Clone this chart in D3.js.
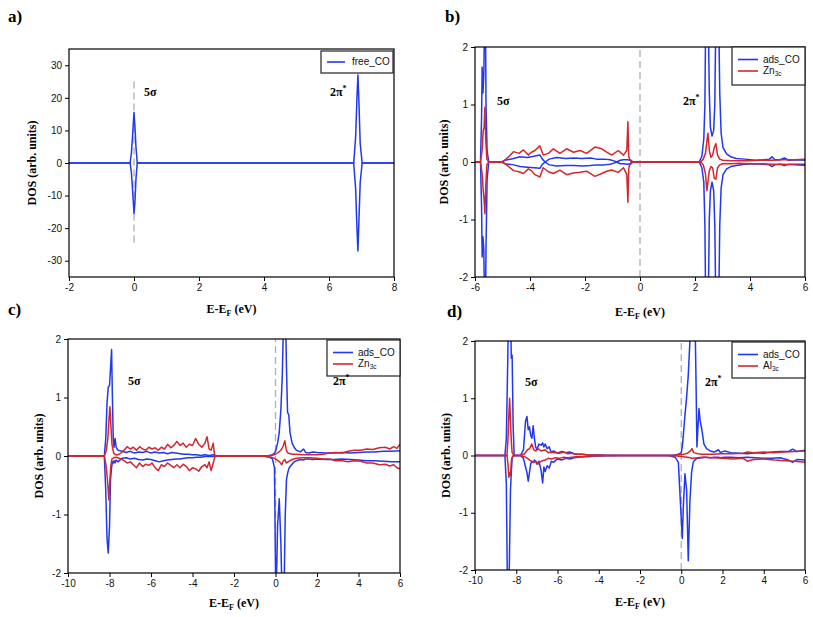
<!DOCTYPE html>
<html><head><meta charset="utf-8">
<script src="https://cdn.jsdelivr.net/npm/d3@7"></script>
<style>body{margin:0;background:#fff}svg{display:block}</style>
</head><body>
<svg id="c" width="813" height="617"></svg>
<script>
// ---------- DATA ----------
// Panel a: free CO
const aE    = [-2,-0.12,-0.08,-0.04,0,0.03,0.06,0.1,6.76,6.82,6.86,6.89,6.92,6.96,7.02,8];
const aCOup = [0,0,3,9,15.5,11,5,0,0,8,20,27,19,6,0,0];
const aCOdn = [0,0,-3,-9,-15.5,-12,-5,0,0,-8,-20,-27,-18,-6,0,0];

// Panel b: ads_CO + Zn3c
const bCOE  = [-6,-5.8,-5.76,-5.74,-5.71,-5.68,-5.65,-5.62,-5.6,-5.56,-5.5,-5.05,-4.9,-4.6,-4.36,-4.1,-3.85,-3.64,-3.55,-3.45,-3.3,-3.03,-2.7,-2.4,-2.1,-1.8,-1.58,-1.3,-1.09,-0.95,-0.85,-0.72,-0.6,-0.45,-0.36,-0.3,2.15,2.25,2.32,2.36,2.39,2.48,2.52,2.56,2.62,2.68,2.72,2.76,2.86,2.9,2.95,3.02,3.15,3.3,3.5,3.8,4.2,4.5,4.7,4.8,4.9,5.1,5.25,5.4,5.7,6];
const bCOup = [0,0,0.8,1.65,1.2,1.5,2.6,2.6,1.0,0.2,0,0,0.03,0.06,0.09,0.08,0.1,0.12,0.05,0,0.05,0.08,0.06,0.07,0.06,0.07,0.05,0.05,0.04,0.02,0,0.03,0.04,0.04,0.03,0,0,0.1,0.4,1.0,2.6,2.6,1.2,0.6,0.45,0.55,1.0,2.6,2.6,1.2,0.5,0.25,0.14,0.09,0.06,0.05,0.03,0.04,0.05,0.09,0.04,0.04,0.07,0.03,0.04,0.03];
const bCOdn = [0,0,-0.8,-1.65,-1.3,-1.5,-2.6,-2.6,-1.5,-0.3,0,0,-0.03,-0.05,-0.08,-0.09,-0.1,-0.11,-0.04,0,-0.05,-0.07,-0.06,-0.06,-0.07,-0.06,-0.05,-0.05,-0.04,-0.02,0,-0.03,-0.03,-0.04,-0.03,0,0,-0.1,-0.35,-1.1,-2.6,-2.6,-1.0,-0.5,-0.35,-0.5,-1.1,-2.6,-2.6,-1.1,-0.45,-0.22,-0.12,-0.08,-0.06,-0.04,-0.03,-0.04,-0.05,-0.08,-0.05,-0.04,-0.06,-0.04,-0.04,-0.04];
const bMeE  = [-6,-5.8,-5.74,-5.7,-5.67,-5.64,-5.61,-5.57,-5.5,-5.0,-4.8,-4.6,-4.4,-4.24,-4.06,-3.95,-3.82,-3.64,-3.52,-3.33,-3.15,-2.91,-2.67,-2.42,-2.18,-1.94,-1.64,-1.39,-1.21,-1.03,-0.79,-0.6,-0.48,-0.44,-0.41,-0.38,-0.3,-0.24,2.2,2.3,2.38,2.43,2.47,2.52,2.58,2.64,2.7,2.76,2.82,2.9,3.0,3.3,3.6,4.0,4.4,4.8,5.2,5.6,6.0];
const bMeUp = [0,0,0.2,0.55,0.6,0.95,0.4,0.05,0,0,0.08,0.18,0.15,0.21,0.12,0.17,0.2,0.28,0.12,0.15,0.23,0.15,0.23,0.17,0.2,0.15,0.26,0.23,0.17,0.12,0.2,0.12,0.2,0.7,0.1,0.05,0.02,0,0,0.05,0.15,0.35,0.5,0.2,0.08,0.12,0.25,0.32,0.12,0.05,0.03,0.02,0.02,0.02,0.03,0.03,0.04,0.04,0.05];
const bMeDn = [0,0,-0.2,-0.5,-0.65,-0.9,-0.45,-0.05,0,0,-0.07,-0.15,-0.17,-0.2,-0.12,-0.15,-0.22,-0.26,-0.1,-0.17,-0.2,-0.14,-0.22,-0.19,-0.18,-0.16,-0.25,-0.2,-0.16,-0.14,-0.18,-0.1,-0.22,-0.7,-0.12,-0.05,-0.02,0,0,-0.05,-0.2,-0.5,-0.35,-0.15,-0.08,-0.1,-0.28,-0.3,-0.1,-0.05,-0.03,-0.03,-0.02,-0.03,-0.03,-0.04,-0.04,-0.05,-0.06];

// Panel c: ads_CO + Zn3c
const cCOE  = [-10,-8.25,-8.18,-8.12,-8.06,-8.0,-7.95,-7.9,-7.86,-7.82,-7.78,-7.73,-7.68,-7.6,-7.4,-7.2,-7.0,-6.8,-6.6,-6.4,-6.2,-6.0,-5.8,-5.6,-5.4,-5.2,-5.0,-4.8,-4.6,-4.4,-4.2,-4.0,-3.8,-3.6,-3.4,-3.2,-3.0,-2.9,-0.6,-0.3,-0.15,-0.05,0.02,0.1,0.18,0.26,0.33,0.4,0.47,0.53,0.58,0.64,0.7,0.8,0.9,1.0,1.2,1.35,1.45,1.6,1.8,2.0,2.4,2.8,3.2,3.6,4.0,4.4,4.8,5.2,5.6,6.0];
const cCOup = [0,0,0.3,0.9,1.18,1.2,1.5,1.82,1.0,0.3,0.15,0.3,0.15,0.1,0.08,0.06,0.08,0.05,0.07,0.06,0.08,0.05,0.07,0.05,0.06,0.04,0.06,0.05,0.04,0.03,0.03,0.02,0.02,0.01,0.02,0.01,0.02,0,0,0.01,0.02,0.05,0.1,0.22,0.4,0.8,1.4,2.6,2.6,1.5,0.75,0.7,0.4,0.22,0.15,0.1,0.07,0.12,0.06,0.05,0.07,0.06,0.05,0.05,0.06,0.05,0.06,0.07,0.07,0.08,0.08,0.09];
const cCOdn = [0,0,-0.6,-1.4,-1.66,-1.2,-0.4,-0.2,-0.1,-0.12,-0.08,-0.12,-0.07,-0.1,-0.04,-0.03,-0.05,-0.04,-0.06,-0.07,-0.05,-0.06,-0.08,-0.1,-0.08,-0.07,-0.06,-0.05,-0.05,-0.04,-0.03,-0.03,-0.02,-0.02,-0.01,-0.01,-0.01,0,0,-0.02,-0.05,-0.2,-2.6,-1.2,-0.73,-1.5,-2.6,-2.6,-1.0,-0.4,-0.3,-0.22,-0.18,-0.14,-0.1,-0.08,-0.06,-0.07,-0.05,-0.05,-0.06,-0.05,-0.06,-0.06,-0.05,-0.06,-0.07,-0.08,-0.08,-0.09,-0.1,-0.1];
const cMeE  = [-10,-8.25,-8.15,-8.08,-8.03,-7.98,-7.93,-7.88,-7.8,-7.7,-7.6,-7.45,-7.3,-7.15,-7.0,-6.85,-6.7,-6.55,-6.4,-6.25,-6.1,-5.95,-5.8,-5.65,-5.5,-5.35,-5.2,-5.05,-4.9,-4.75,-4.6,-4.45,-4.3,-4.15,-4.0,-3.85,-3.7,-3.55,-3.4,-3.3,-3.2,-3.1,-3.0,-2.95,-2.9,-0.6,-0.2,0.0,0.2,0.3,0.38,0.45,0.52,0.6,0.8,1.0,1.3,1.6,2.0,2.3,2.6,2.9,3.2,3.5,3.8,4.1,4.4,4.7,5.0,5.3,5.5,5.7,5.85,6.0];
const cMeUp = [0,0,0.1,0.3,0.6,0.84,0.5,0.2,0.05,0.02,0.02,0.05,0.1,0.16,0.12,0.15,0.1,0.16,0.12,0.1,0.15,0.12,0.14,0.1,0.15,0.12,0.2,0.14,0.18,0.25,0.18,0.22,0.15,0.2,0.18,0.3,0.2,0.15,0.22,0.33,0.12,0.1,0.22,0.05,0,0,0.01,0.03,0.08,0.12,0.18,0.26,0.1,0.05,0.03,0.03,0.02,0.02,0.02,0.03,0.05,0.06,0.05,0.08,0.1,0.1,0.12,0.11,0.14,0.15,0.12,0.16,0.13,0.2];
const cMeDn = [0,0,-0.2,-0.5,-0.75,-0.4,-0.15,-0.05,-0.03,-0.02,-0.03,-0.05,-0.08,-0.12,-0.1,-0.15,-0.2,-0.12,-0.18,-0.14,-0.16,-0.12,-0.2,-0.25,-0.15,-0.18,-0.12,-0.16,-0.2,-0.15,-0.2,-0.14,-0.18,-0.25,-0.2,-0.22,-0.26,-0.18,-0.15,-0.2,-0.1,-0.25,-0.12,-0.05,0,0,-0.02,-0.05,-0.1,-0.15,-0.08,-0.06,-0.12,-0.1,-0.06,-0.04,-0.03,-0.03,-0.04,-0.05,-0.05,-0.08,-0.08,-0.1,-0.08,-0.09,-0.12,-0.12,-0.15,-0.14,-0.17,-0.15,-0.2,-0.22];

// Panel d: ads_CO + Al3c
const dCOE  = [-10,-8.55,-8.48,-8.42,-8.37,-8.33,-8.28,-8.24,-8.2,-8.15,-8.1,-7.8,-7.65,-7.55,-7.48,-7.42,-7.36,-7.3,-7.24,-7.18,-7.12,-7.06,-7.0,-6.9,-6.8,-6.72,-6.66,-6.6,-6.5,-6.4,-6.3,-6.2,-6.0,-5.8,-5.6,-5.4,-5.2,-5.0,-4.8,-4.5,-4.2,-3.9,-3.6,-3.2,-2.9,-0.6,-0.3,-0.14,0.0,0.05,0.1,0.18,0.26,0.34,0.42,0.5,0.58,0.66,0.72,0.76,0.86,0.92,1.0,1.1,1.23,1.4,1.6,1.8,1.9,2.1,2.4,2.8,3.2,3.6,4.0,4.4,4.8,5.2,5.4,5.6,6.0];
const dCOup = [0,0,0.3,1.5,2.6,2.6,2.6,1.7,1.75,0.5,0,0,0.1,0.6,0.68,0.45,0.5,0.35,0.3,0.52,0.3,0.15,0.1,0.2,0.18,0.22,0.15,0.2,0.12,0.15,0.05,0.08,0.04,0.07,0.05,0.06,0.03,0.02,0.02,0.01,0.01,0.01,0.005,0.005,0,0,0.01,0.02,0.05,0.15,0.35,0.7,1.02,1.4,2.0,2.6,2.6,2.6,1.2,0.15,0.82,0.6,0.45,0.2,0.12,0.08,0.06,0.1,0.05,0.08,0.05,0.04,0.03,0.05,0.04,0.06,0.07,0.07,0.11,0.07,0.09];
const dCOdn = [0,0,-0.5,-2.6,-2.6,-1.8,-0.6,-0.3,-0.05,0,0,0,-0.05,-0.2,-0.3,-0.45,-0.3,-0.15,-0.1,-0.12,-0.08,-0.1,-0.15,-0.1,-0.25,-0.48,-0.2,-0.28,-0.18,-0.22,-0.1,-0.12,-0.06,-0.08,-0.05,-0.06,-0.04,-0.03,-0.02,-0.02,-0.01,-0.01,-0.005,-0.005,0,0,-0.03,-0.12,-1.1,-1.45,-0.9,-0.32,-0.6,-1.84,-0.8,-0.3,-0.12,-0.08,-0.06,-0.05,-0.05,-0.04,-0.04,-0.03,-0.03,-0.04,-0.03,-0.03,-0.04,-0.03,-0.03,-0.04,-0.03,-0.04,-0.05,-0.05,-0.04,-0.08,-0.12,-0.07,-0.08];
const dMeE  = [-10,-8.45,-8.4,-8.36,-8.32,-8.28,-8.24,-8.2,-8.1,-7.8,-7.6,-7.45,-7.35,-7.25,-7.15,-7.05,-6.95,-6.8,-6.6,-6.45,-6.3,-6.1,-5.9,-5.7,-5.5,-5.3,-5.1,-4.8,-4.5,-4.2,-3.8,-3.4,-3.0,-2.8,-0.6,-0.2,0.1,0.3,0.45,0.52,0.6,0.8,1.0,1.5,2.0,2.5,3.0,3.2,3.5,4.0,4.5,5.0,5.5,6.0];
const dMeUp = [0,0,0.3,0.7,1.0,0.6,0.25,0.05,0,0,0.03,0.1,0.12,0.2,0.1,0.08,0.12,0.08,0.1,0.05,0.06,0.05,0.04,0.06,0.03,0.04,0.02,0.02,0.01,0.01,0.005,0.005,0,0,0,0.01,0.02,0.04,0.08,0.12,0.05,0.03,0.02,0.02,0.03,0.03,0.04,0.06,0.05,0.06,0.05,0.06,0.07,0.08];
const dMeDn = [0,0,-0.15,-0.38,-0.3,-0.35,-0.1,-0.03,0,0,-0.02,-0.05,-0.08,-0.1,-0.12,-0.1,-0.15,-0.1,-0.08,-0.05,-0.06,-0.04,-0.05,-0.03,-0.04,-0.03,-0.02,-0.02,-0.01,-0.01,-0.005,-0.005,0,0,0,-0.01,-0.02,-0.03,-0.04,-0.05,-0.05,-0.04,-0.03,-0.04,-0.05,-0.06,-0.05,-0.1,-0.07,-0.06,-0.08,-0.09,-0.1,-0.12];

// Ticks & labels
const aXTicks = [-2,0,2,4,6,8];
const aYTicks = [-30,-20,-10,0,10,20,30];
const bXTicks = [-6,-4,-2,0,2,4,6];
const cdXTicks = [-10,-8,-6,-4,-2,0,2,4,6];
const smallYTicks = [-2,-1,0,1,2];
const panelLetters = ["a)","b)","c)","d)"];

// ---------- DRAW ----------
const BLUE = "#2238ee", RED = "#d3262e";
const svg = d3.select("#c");
const panels = [
  {id:"a", letter:panelLetters[0], box:[69,49,394,277], xd:[-2,8], yd:[-35,35], xt:aXTicks, yt:aYTicks,
   series:[{E:aE, up:aCOup, dn:aCOdn, color:BLUE}],
   legend:[{name:"free_CO", color:BLUE}], legBox:[321,51,393,73],
   fermi:[25,-25], ann:[{t:"5σ",x:0.31,y:20.6},{t:"2π",sup:"*",x:6.03,y:20.6}],
   letterPos:[8,22], ylabX:33, xlabY:313},
  {id:"b", letter:panelLetters[1], box:[475,47,805,277], xd:[-6,6], yd:[-2,2], xt:bXTicks, yt:smallYTicks,
   series:[{E:bCOE, up:bCOup, dn:bCOdn, color:BLUE},{E:bMeE, up:bMeUp, dn:bMeDn, color:RED}],
   legend:[{name:"ads_CO", color:BLUE},{name:"Zn", sub:"3c", color:RED}], legBox:[732,47,805,85],
   fermi:null, ann:[{t:"5σ",x:-5.2,y:1.0},{t:"2π",sup:"*",x:1.56,y:1.0}],
   letterPos:[445,22], ylabX:445, xlabY:316},
  {id:"c", letter:panelLetters[2], box:[68,339,400,573], xd:[-10,6], yd:[-2,2], xt:cdXTicks, yt:smallYTicks,
   series:[{E:cCOE, up:cCOup, dn:cCOdn, color:BLUE},{E:cMeE, up:cMeUp, dn:cMeDn, color:RED}],
   legend:[{name:"ads_CO", color:BLUE},{name:"Zn", sub:"3c", color:RED}], legBox:[327,340,400,376],
   fermi:null, ann:[{t:"5σ",x:-7.11,y:1.21},{t:"2π",sup:"*",x:2.77,y:1.21}],
   letterPos:[8,315], ylabX:40, xlabY:607},
  {id:"d", letter:panelLetters[3], box:[475,341,805,570], xd:[-10,6], yd:[-2,2], xt:cdXTicks, yt:smallYTicks,
   series:[{E:dCOE, up:dCOup, dn:dCOdn, color:BLUE},{E:dMeE, up:dMeUp, dn:dMeDn, color:RED}],
   legend:[{name:"ads_CO", color:BLUE},{name:"Al", sub:"3c", color:RED}], legBox:[732,342,805,378],
   fermi:null, ann:[{t:"5σ",x:-7.58,y:1.21},{t:"2π",sup:"*",x:1.15,y:1.21}],
   letterPos:[447,317], ylabX:447, xlabY:606}
];

panels.forEach(p => {
  const [L,T,R,B] = p.box;
  const x = d3.scaleLinear().domain(p.xd).range([L,R]);
  const y = d3.scaleLinear().domain(p.yd).range([B,T]);
  const g = svg.append("g");

  g.append("clipPath").attr("id","clip"+p.id).append("rect")
    .attr("x",L).attr("y",T).attr("width",R-L).attr("height",B-T);

  // Fermi level dashed line
  const fy = p.fermi ? p.fermi : p.yd;
  g.append("line").attr("x1",x(0)).attr("x2",x(0)).attr("y1",y(fy[0])).attr("y2",y(fy[1]))
    .attr("stroke","#aab0b4").attr("stroke-width",1.3).attr("stroke-dasharray","7,4");

  const plot = g.append("g").attr("clip-path","url(#clip"+p.id+")");
  p.series.forEach(s => {
    ["up","dn"].forEach(k => {
      const pts = s.E.map((e,i)=>[e, s[k][i]]);
      plot.append("path").datum(pts)
        .attr("fill","none").attr("stroke",s.color).attr("stroke-width",1.5)
        .attr("stroke-linejoin","round")
        .attr("d", d3.line().x(d=>x(d[0])).y(d=>y(d[1])));
    });
  });

  // frame
  g.append("rect").attr("x",L).attr("y",T).attr("width",R-L).attr("height",B-T)
    .attr("fill","none").attr("stroke","#000").attr("stroke-width",1.2);

  const axFont = "'Liberation Sans', Arial, sans-serif";
  const fmt = d => String(d);
  const xa = g.append("g").attr("transform",`translate(0,${B})`)
    .call(d3.axisBottom(x).tickValues(p.xt).tickSize(4).tickSizeOuter(0).tickPadding(3).tickFormat(fmt));
  const ya = g.append("g").attr("transform",`translate(${L},0)`)
    .call(d3.axisLeft(y).tickValues(p.yt).tickSize(4).tickSizeOuter(0).tickPadding(3).tickFormat(fmt));
  [xa,ya].forEach(a=>{
    a.select(".domain").remove();
    a.selectAll("text").attr("font-family",axFont).attr("font-size",10).attr("fill","#111");
    a.selectAll("line").attr("stroke","#000");
  });

  const serif = "'Liberation Serif', 'Times New Roman', serif";
  // y label
  g.append("text").attr("transform",`translate(${p.ylabX},${(T+B)/2}) rotate(-90)`)
    .attr("text-anchor","middle").attr("dominant-baseline","middle")
    .attr("font-family",serif).attr("font-weight","bold").attr("font-size",12)
    .text("DOS (arb. units)");
  // x label
  const xl = g.append("text").attr("x",(L+R)/2).attr("y",p.xlabY).attr("text-anchor","middle")
    .attr("font-family",serif).attr("font-weight","bold").attr("font-size",12);
  xl.append("tspan").text("E-E");
  xl.append("tspan").attr("font-size",8).attr("dy",3).text("F");
  xl.append("tspan").attr("dy",-3).text(" (eV)");

  // panel letter
  g.append("text").attr("x",p.letterPos[0]).attr("y",p.letterPos[1])
    .attr("font-family",serif).attr("font-weight","bold").attr("font-size",17).text(p.letter);

  // legend
  const [lx0,ly0,lx1,ly1] = p.legBox;
  g.append("rect").attr("x",lx0).attr("y",ly0).attr("width",lx1-lx0).attr("height",ly1-ly0)
    .attr("fill","#fff").attr("stroke","#222").attr("stroke-width",1.2);
  const n = p.legend.length;
  p.legend.forEach((l,i)=>{
    const cy = n===1 ? (ly0+ly1)/2 : ly0 + 12.5 + i*11.5;
    g.append("line").attr("x1",lx0+6).attr("x2",lx0+(n===1?24:26)).attr("y1",cy).attr("y2",cy)
      .attr("stroke",l.color).attr("stroke-width",1.6);
    const t = g.append("text").attr("x",lx0+31).attr("y",cy).attr("dominant-baseline","middle")
      .attr("font-family",axFont).attr("font-size",10).attr("fill","#111");
    t.append("tspan").text(l.name);
    if (l.sub) t.append("tspan").attr("font-size",6.5).attr("dy",3).text(l.sub);
  });

  // annotations (on top)
  p.ann.forEach(a=>{
    const t = g.append("text").attr("x",x(a.x)).attr("y",y(a.y))
      .attr("font-family",serif).attr("font-weight","bold").attr("font-size",12);
    t.append("tspan").text(a.t);
    if (a.sup) t.append("tspan").attr("font-size",8).attr("dy",-5).text(a.sup);
  });
});
</script>
</body></html>
